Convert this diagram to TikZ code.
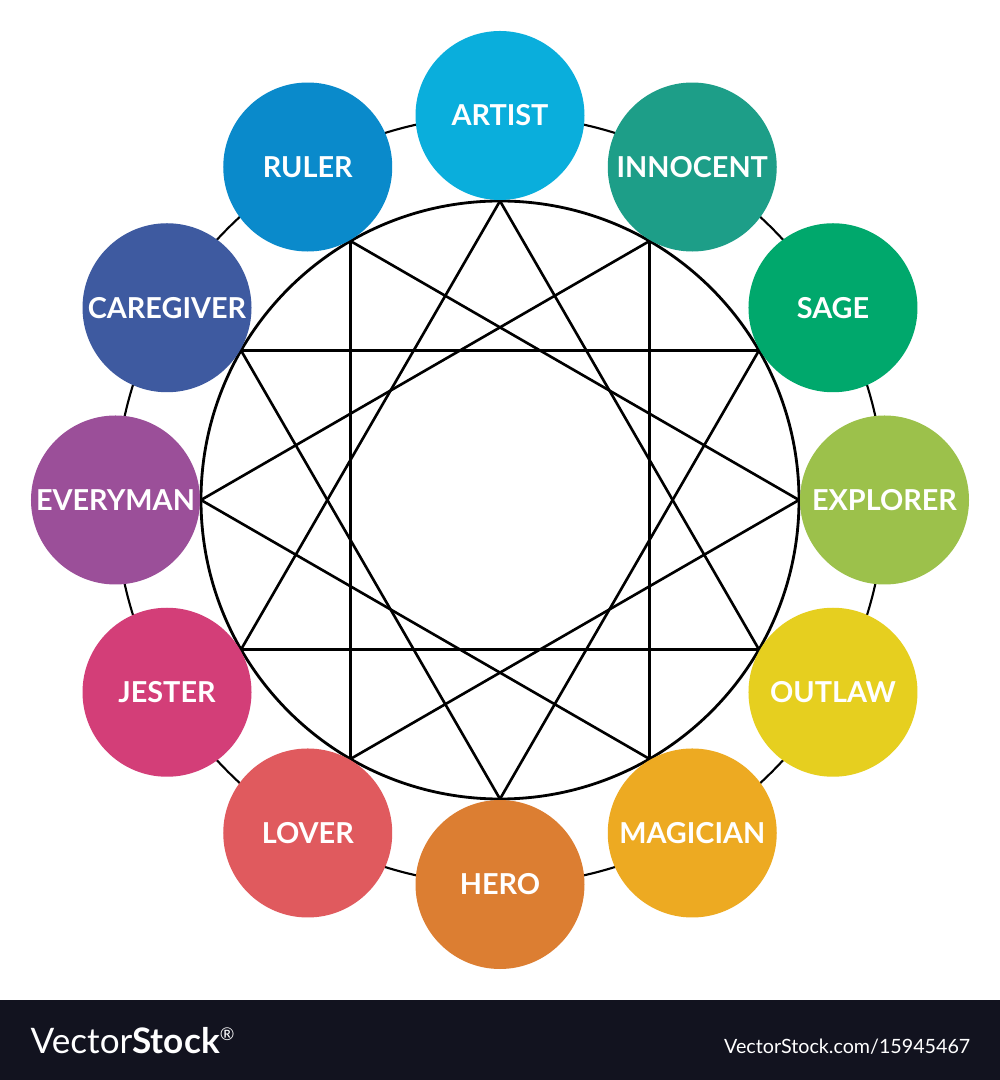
\documentclass[tikz,border=0pt]{standalone}
\usepackage{fontspec}
\setmainfont{Lato}
\usepackage{xcolor}
\usetikzlibrary{positioning}

\definecolor{artistc}{HTML}{0AAEDC}
\definecolor{innocentc}{HTML}{1D9E88}
\definecolor{sagec}{HTML}{00A86C}
\definecolor{explorerc}{HTML}{9CC14B}
\definecolor{outlawc}{HTML}{E6CF1F}
\definecolor{magicianc}{HTML}{EDAA22}
\definecolor{heroc}{HTML}{DC7E32}
\definecolor{loverc}{HTML}{E05A5E}
\definecolor{jesterc}{HTML}{D33E78}
\definecolor{everymanc}{HTML}{9B4F99}
\definecolor{caregiverc}{HTML}{3E5AA0}
\definecolor{rulerc}{HTML}{0A8ACB}
\definecolor{barc}{HTML}{12131F}

\tikzset{
  archetype/.style={circle, fill=#1, minimum size=1.69cm, inner sep=0pt,
    text=white, font=\fontsize{8.2}{10}\selectfont\bfseries},
  chord/.style={line width=0.75pt},
}

\begin{document}
\begin{tikzpicture}
    \useasboundingbox (-5,-5.8) rectangle (5,5);
    \fill[white] (-5,-5.8) rectangle (5,5);

    % ring and wheel
    \draw[line width=0.6pt] (0,0) circle (3.845);
    \draw[line width=0.8pt] (0,0) circle (2.99);

    % star points
    \coordinate (p0) at (90:2.99);
    \coordinate (p1) at (60:2.99);
    \coordinate (p2) at (30:2.99);
    \coordinate (p3) at (0:2.99);
    \coordinate (p4) at (-30:2.99);
    \coordinate (p5) at (-60:2.99);
    \coordinate (p6) at (-90:2.99);
    \coordinate (p7) at (-120:2.99);
    \coordinate (p8) at (-150:2.99);
    \coordinate (p9) at (180:2.99);
    \coordinate (p10) at (150:2.99);
    \coordinate (p11) at (120:2.99);

    \draw[chord] (p0) -- (p4) -- (p8) -- cycle;
    \draw[chord] (p1) -- (p5) -- (p9) -- cycle;
    \draw[chord] (p2) -- (p6) -- (p10) -- cycle;
    \draw[chord] (p3) -- (p7) -- (p11) -- cycle;

    % archetypes
    \node[archetype=artistc] (artist) at (90:3.845) {ARTIST};
    \node[archetype=innocentc] (innocent) at (60:3.845) {INNOCENT};
    \node[archetype=sagec] (sage) at (30:3.845) {SAGE};
    \node[archetype=explorerc] (explorer) at (0:3.845) {EXPLORER};
    \node[archetype=outlawc] (outlaw) at (-30:3.845) {OUTLAW};
    \node[archetype=magicianc] (magician) at (-60:3.845) {MAGICIAN};
    \node[archetype=heroc] (hero) at (-90:3.845) {HERO};
    \node[archetype=loverc] (lover) at (-120:3.845) {LOVER};
    \node[archetype=jesterc] (jester) at (-150:3.845) {JESTER};
    \node[archetype=everymanc] (everyman) at (180:3.845) {EVERYMAN};
    \node[archetype=caregiverc] (caregiver) at (150:3.845) {CAREGIVER};
    \node[archetype=rulerc] (ruler) at (120:3.845) {RULER};

    % footer
    \fill[barc] (-5,-5.8) rectangle (5,-5);
    \node[anchor=base west, text=white, font=\fontsize{10}{12}\selectfont, inner sep=0pt]
        (brand) at (-4.70,-5.53) {Vector\textbf{Stock}\textsuperscript{\tiny\textregistered}};
    \node[anchor=base east, text=white, font=\fontsize{5.6}{7}\selectfont, inner sep=0pt]
        (stockid) at (4.71,-5.53) {VectorStock.com/15945467};
\end{tikzpicture}
\end{document}
